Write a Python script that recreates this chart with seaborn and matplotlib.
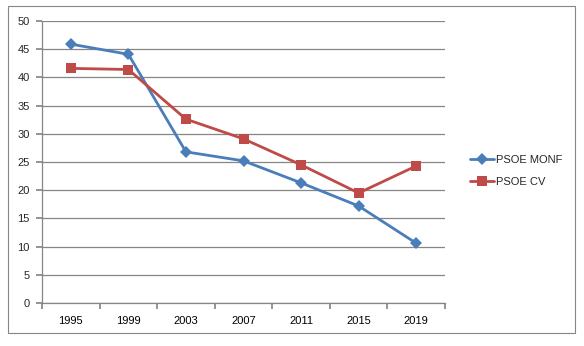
import matplotlib
matplotlib.use("Agg")
import matplotlib.pyplot as plt
import seaborn as sns
import pandas as pd
from matplotlib.patches import Rectangle
from matplotlib.lines import Line2D
from matplotlib.ticker import FixedLocator, NullFormatter, FixedFormatter

years = ["1995", "1999", "2003", "2007", "2011", "2015", "2019"]
psoe_monf = [45.9, 44.1, 26.8, 25.2, 21.3, 17.2, 10.6]
psoe_cv = [41.6, 41.4, 32.6, 29.1, 24.5, 19.5, 24.3]
series_names = ["PSOE MONF", "PSOE CV"]
y_ticks = [0, 5, 10, 15, 20, 25, 30, 35, 40, 45, 50]

sns.set_theme(style="white")
plt.rcParams['font.family'] = ['Liberation Sans', 'DejaVu Sans']

rows = []
for name, vals in zip(series_names, [psoe_monf, psoe_cv]):
    for i, (y, v) in enumerate(zip(years, vals)):
        rows.append({"pos": i, "year": y, "value": v, "series": name})
df = pd.DataFrame(rows)

fig = plt.figure(figsize=(5.84, 3.46), dpi=100)
fig.patch.set_facecolor("white")
fig.patches.append(Rectangle((8/584, 1-333/346), (575-8)/584, (333-6)/346,
                             transform=fig.transFigure, fill=False,
                             edgecolor="#868686", linewidth=0.8))

ax = fig.add_axes([42/584, 1-303/346, (445-42)/584, (303-21)/346])
palette = {"PSOE MONF": "#4A7EBB", "PSOE CV": "#BE4B48"}
markers = {"PSOE MONF": "D", "PSOE CV": "s"}
msize = {"PSOE MONF": 5.8, "PSOE CV": 6.5}
sns.lineplot(data=df, x="pos", y="value", hue="series", style="series",
             palette=palette, markers=markers, dashes=False, ax=ax,
             linewidth=2.0, markeredgewidth=0, legend=False)
for line in ax.lines:
    if line.get_marker() == "D":
        line.set_markersize(msize["PSOE MONF"])
    elif line.get_marker() == "s":
        line.set_markersize(msize["PSOE CV"])

ax.set_xlim(-0.5, len(years) - 0.5)
ax.set_ylim(0, 50)
ax.set_yticks(y_ticks)
ax.set_yticklabels([str(t) for t in y_ticks])
ax.yaxis.grid(True, color="#868686", linewidth=0.9)
ax.set_axisbelow(True)

ax.xaxis.set_major_locator(FixedLocator([i - 0.5 for i in range(len(years) + 1)]))
ax.xaxis.set_major_formatter(NullFormatter())
ax.xaxis.set_minor_locator(FixedLocator(list(range(len(years)))))
ax.xaxis.set_minor_formatter(FixedFormatter(years))
ax.tick_params(axis="x", which="major", length=4, color="#868686", direction="out", bottom=True)
ax.tick_params(axis="x", which="minor", length=0, labelsize=8, pad=9, colors="black")
ax.tick_params(axis="y", length=4, color="#868686", direction="out", left=True, labelsize=8, pad=5)

for s in ["top", "right"]:
    ax.spines[s].set_visible(False)
for s in ["left", "bottom"]:
    ax.spines[s].set_color("#868686")
    ax.spines[s].set_linewidth(0.9)
ax.set_xlabel("")
ax.set_ylabel("")

handles = [Line2D([0], [0], color=palette[n], marker=markers[n],
                  markersize=msize[n], markeredgewidth=0, linewidth=2.0)
           for n in series_names]
fig.legend(handles, series_names, loc="center left", bbox_to_anchor=(460/584, 1-171/346),
           frameon=False, fontsize=8, handlelength=2.2, handletextpad=0.1, labelspacing=1.1)

fig.savefig("out.png", dpi=100)
